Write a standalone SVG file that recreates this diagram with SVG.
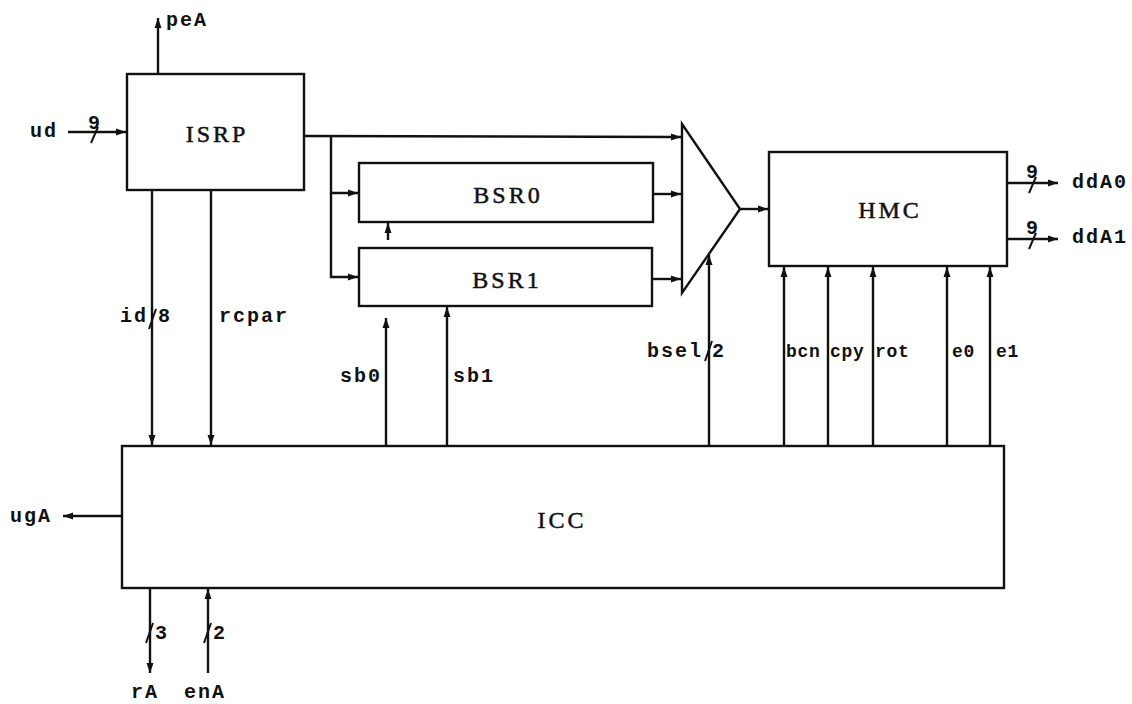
<svg xmlns="http://www.w3.org/2000/svg" width="1132" height="704" viewBox="0 0 1132 704">
<defs>
<marker id="ah" markerUnits="userSpaceOnUse" markerWidth="11" markerHeight="8" refX="10" refY="4" orient="auto">
<path d="M0,0.5 L10,4 L0,7.5 z" fill="#111"/>
</marker>
<style>
.box{fill:#fff;stroke:#111;stroke-width:2.4}
.w{fill:none;stroke:#111;stroke-width:2.4}
.a{fill:none;stroke:#111;stroke-width:2.4;marker-end:url(#ah)}
.sl{fill:none;stroke:#111;stroke-width:2}
.bl{font-family:"Liberation Serif",serif;font-size:24px;letter-spacing:3px;fill:#111;stroke:#111;stroke-width:0.5;text-anchor:middle}
.lb{font-family:"Liberation Mono",monospace;font-weight:bold;font-size:20px;letter-spacing:2px;fill:#111}
.ls{font-family:"Liberation Mono",monospace;font-weight:bold;font-size:18px;letter-spacing:0.7px;fill:#111}
.n{font-family:"Liberation Mono",monospace;font-weight:bold;font-size:20px;fill:#111}
</style>
</defs>
<rect width="1132" height="704" fill="#fff"/>

<g id="ISRP"><rect class="box" x="127" y="74" width="177" height="116"/><text class="bl" x="217" y="142">ISRP</text></g>
<g id="BSR0"><rect class="box" x="359" y="163" width="294" height="59"/><text class="bl" x="508" y="203">BSR0</text></g>
<g id="BSR1"><rect class="box" x="359" y="248" width="293" height="58"/><text class="bl" x="507" y="288">BSR1</text></g>
<g id="MUX"><path class="box" d="M682,124 L740,209 L682,293 Z"/></g>
<g id="HMC"><rect class="box" x="769" y="152" width="238" height="114"/><text class="bl" x="890" y="218">HMC</text></g>
<g id="ICC"><rect class="box" x="122" y="446" width="882" height="142"/><text class="bl" x="562" y="528">ICC</text></g>

<g id="connectors">
<line class="a" x1="158" y1="74" x2="158" y2="18"/>
<line class="a" x1="68" y1="132" x2="126" y2="132"/>
<line class="sl" x1="91" y1="143" x2="98" y2="127"/>
<line class="a" x1="304" y1="136" x2="681" y2="137"/>
<polyline class="a" points="331,136 331,193 358,193"/>
<polyline class="a" points="331,193 331,277 358,277"/>
<line class="a" x1="653" y1="194" x2="681" y2="194"/>
<line class="a" x1="652" y1="279" x2="681" y2="279"/>
<line class="a" x1="388" y1="240" x2="388" y2="223"/>
<line class="a" x1="740" y1="209" x2="768" y2="209"/>
<line class="a" x1="1007" y1="183" x2="1058" y2="183"/>
<line class="sl" x1="1029" y1="193" x2="1036" y2="177"/>
<line class="a" x1="1007" y1="239" x2="1058" y2="239"/>
<line class="sl" x1="1029" y1="249" x2="1036" y2="233"/>
<line class="a" x1="152" y1="190" x2="152" y2="445"/>
<line class="sl" x1="149" y1="329" x2="156" y2="309"/>
<line class="a" x1="211" y1="190" x2="211" y2="445"/>
<line class="a" x1="386" y1="446" x2="386" y2="318"/>
<line class="a" x1="447" y1="446" x2="447" y2="307"/>
<line class="a" x1="709" y1="446" x2="709" y2="255"/>
<line class="sl" x1="705" y1="361" x2="712" y2="341"/>
<line class="a" x1="784" y1="446" x2="784" y2="267"/>
<line class="a" x1="828" y1="446" x2="828" y2="267"/>
<line class="a" x1="873" y1="446" x2="873" y2="267"/>
<line class="a" x1="947" y1="446" x2="947" y2="267"/>
<line class="a" x1="990" y1="446" x2="990" y2="267"/>
<line class="a" x1="122" y1="516" x2="63" y2="516"/>
<line class="a" x1="150" y1="588" x2="150" y2="673"/>
<line class="sl" x1="146" y1="643" x2="153" y2="623"/>
<line class="a" x1="208" y1="673" x2="208" y2="589"/>
<line class="sl" x1="204" y1="643" x2="211" y2="623"/>
</g>

<g id="labels">
<text class="lb" x="166" y="26">peA</text>
<text class="lb" x="30" y="137">ud</text>
<text class="n" x="88" y="129">9</text>
<text class="n" x="1026" y="178">9</text>
<text class="n" x="1026" y="234">9</text>
<text class="lb" x="1072" y="188">ddA0</text>
<text class="lb" x="1072" y="243">ddA1</text>
<text class="lb" x="120" y="322">id</text>
<text class="lb" x="158" y="322">8</text>
<text class="lb" x="219" y="322">rcpar</text>
<text class="lb" x="340" y="382">sb0</text>
<text class="lb" x="453" y="382">sb1</text>
<text class="lb" x="647" y="357">bsel</text>
<text class="lb" x="712" y="357">2</text>
<text class="ls" x="786" y="357">bcn</text>
<text class="ls" x="830" y="357">cpy</text>
<text class="ls" x="875" y="357">rot</text>
<text class="ls" x="952" y="357">e0</text>
<text class="ls" x="996" y="357">e1</text>
<text class="lb" x="10" y="522">ugA</text>
<text class="n" x="155" y="639">3</text>
<text class="n" x="213" y="639">2</text>
<text class="lb" x="131" y="698">rA</text>
<text class="lb" x="184" y="698">enA</text>
</g>
</svg>
